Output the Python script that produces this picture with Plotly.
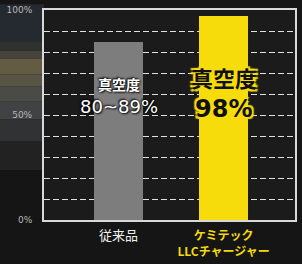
import plotly.graph_objects as go

categories = ["従来品", "ケミテック<br>LLCチャージャー"]
values = [85, 97]
bar_labels_top = ["真空度", "真空度"]
bar_labels_value = ["80~89%", "98%"]
y_tick_vals = [0, 10, 20, 30, 40, 50, 60, 70, 80, 90, 100]
y_tick_text = ["0%", "", "", "", "", "50%", "", "", "", "", "100%"]

FONT = "Noto Sans CJK JP"
NUMFONT = "DejaVu Sans"
xpos = [0, 1]
W, H = 302, 264
ML, MR, MT, MB = 44, 5, 6, 43
PH = H - MT - MB

fig = go.Figure()
fig.add_trace(go.Bar(
    x=xpos, y=values, width=0.47,
    marker=dict(color=["#7d7d7d", "#f7dc0c"], line=dict(width=0)),
    hoverinfo="skip",
))

# background tint bands left of plot (photo-like)
bands = [(0, 38, "#252930"), (38, 48, "#2f312f"), (48, 56, "#46433a"),
         (56, 72, "#635c43"), (72, 84, "#585545"), (84, 100, "#4a4a47"),
         (100, 118, "#404244"), (118, 140, "#313233"), (140, 170, "#222222"),
         (170, 264, "#151515")]
for y0, y1, c in bands:
    fig.add_shape(type="rect", xref="paper", yref="paper",
                  x0=-ML / (W - ML - MR) - 0.01, x1=0,
                  y0=(H - MB - y1) / PH, y1=(H - MB - y0) / PH,
                  fillcolor=c, line=dict(width=0), layer="below")

gray_shadow = "1px 1px 2px #000, -1px -1px 2px #000"
yel = "#f7dc0c"
yel_shadow = f"2px 2px 1px {yel}, -2px -2px 1px {yel}, 2px -2px 1px {yel}, -2px 2px 1px {yel}"

fig.add_annotation(x=0, y=59.5, yanchor="bottom", borderpad=0,
                   text=f"<b>{bar_labels_top[0]}</b>", showarrow=False,
                   font=dict(family=FONT, size=14, color="white", shadow=gray_shadow))
fig.add_annotation(x=0, y=59.5, yanchor="top", borderpad=0,
                   text=bar_labels_value[0], showarrow=False,
                   font=dict(family=NUMFONT, size=18, color="white", shadow=gray_shadow))
fig.add_annotation(x=1, y=60, yanchor="bottom", borderpad=0,
                   text=f"<b>{bar_labels_top[1]}</b>", showarrow=False,
                   font=dict(family=FONT, size=22, color="#111", shadow=yel_shadow))
fig.add_annotation(x=1, y=60, yanchor="top", borderpad=0,
                   text=f"<b>{bar_labels_value[1]}</b>", showarrow=False,
                   font=dict(family=NUMFONT, size=24, color="#111", shadow=yel_shadow))

fig.update_layout(
    width=W, height=H,
    margin=dict(l=ML, r=MR, t=MT, b=MB),
    paper_bgcolor="#151515",
    plot_bgcolor="#1b1b1b",
    showlegend=False,
    bargap=0,
)
fig.update_xaxes(
    range=[-0.71, 1.68],
    tickvals=xpos,
    ticktext=['<span style="color:#f0f0f0;font-size:13px">従来品</span>',
              '<span style="color:#f2d90c"><b>ケミテック<br>LLCチャージャー</b></span>'],
    tickfont=dict(family=FONT, size=12),
    ticks="", ticklabelstandoff=4, showgrid=False, zeroline=False,
    showline=True, linecolor="#d8d8d8", linewidth=2, mirror=True,
)
fig.update_yaxes(
    range=[0, 100],
    tickvals=y_tick_vals, ticktext=y_tick_text,
    tickfont=dict(family=NUMFONT, size=9, color="#b8b8b8"),
    ticks="", ticklabelstandoff=8,
    showgrid=True, gridcolor="#e0e0e0", gridwidth=1.3, griddash="6px,3px",
    zeroline=False,
    showline=True, linecolor="#d8d8d8", linewidth=2, mirror=True,
)

fig.write_html("out.html", config={"displayModeBar": False},
               post_script="document.body.style.margin='0';document.body.style.background='#151515';")
